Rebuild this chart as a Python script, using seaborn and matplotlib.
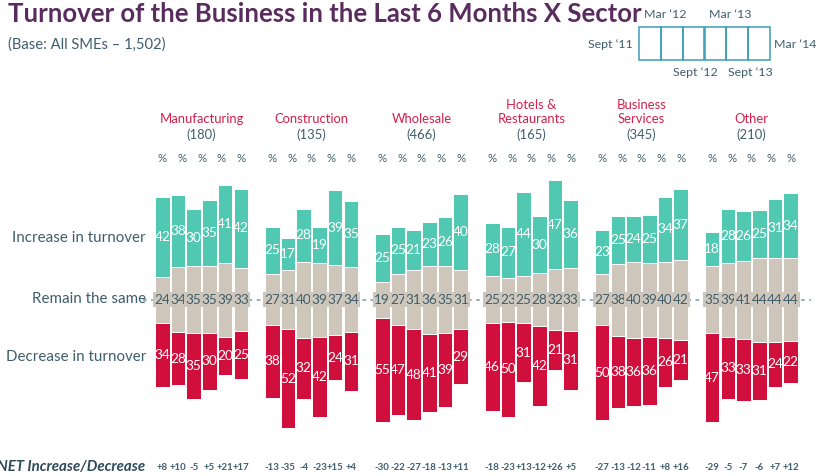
import numpy as np
import pandas as pd
import matplotlib
matplotlib.use("Agg")
import matplotlib.pyplot as plt
from matplotlib.patches import Rectangle
import seaborn as sns

# ---------------------------------------------------------------------------
# Data (percentages, six waves per sector)
# ---------------------------------------------------------------------------
sectors = ["Manufacturing", "Construction", "Wholesale",
           "Hotels &\nRestaurants", "Business\nServices", "Other"]
bases = ["(180)", "(135)", "(466)", "(165)", "(345)", "(210)"]

increase = [
    [42, 38, 30, 35, 41, 42],
    [25, 17, 28, 19, 39, 35],
    [25, 25, 21, 23, 26, 40],
    [28, 27, 44, 30, 47, 36],
    [23, 25, 24, 25, 34, 37],
    [18, 28, 26, 25, 31, 34],
]
remain = [
    [24, 34, 35, 35, 39, 33],
    [27, 31, 40, 39, 37, 34],
    [19, 27, 31, 36, 35, 31],
    [25, 23, 25, 28, 32, 33],
    [27, 38, 40, 39, 40, 42],
    [35, 39, 41, 44, 44, 44],
]
decrease = [
    [34, 28, 35, 30, 20, 25],
    [38, 52, 32, 42, 24, 31],
    [55, 47, 48, 41, 39, 29],
    [46, 50, 31, 42, 21, 31],
    [50, 38, 36, 36, 26, 21],
    [47, 33, 33, 31, 24, 22],
]
net = [
    ["+8", "+10", "-5", "+5", "+21", "+17"],
    ["-13", "-35", "-4", "-23", "+15", "+4"],
    ["-30", "-22", "-27", "-18", "-13", "+11"],
    ["-18", "-23", "+13", "-12", "+26", "+5"],
    ["-27", "-13", "-12", "-11", "+8", "+16"],
    ["-29", "-5", "-7", "-6", "+7", "+12"],
]
row_labels = ["Increase in turnover", "Remain the same", "Decrease in turnover"]
wave_top = ["Mar \u201812", "Mar \u201813"]
wave_bottom = ["Sept \u201812", "Sept \u201813"]

TEAL = "#50C8B2"
BEIGE = "#CEC6BA"
RED = "#D10F3C"
SLATE = "#3F5E6B"
PURPLE = "#5A2B5E"
CRIMSON = "#D4204A"

W, H = 817, 476


def fx(px):
    return px / W


def fy(py):
    return 1 - py / H


# ---------------------------------------------------------------------------
# Long table: one row per bar
# ---------------------------------------------------------------------------
rows = []
for g in range(len(sectors)):
    for i in range(6):
        r = remain[g][i]
        rows.append({
            "pos": g * 7 + i,
            "inc": increase[g][i], "rem": r, "dec": decrease[g][i],
            "inc_bottom": r / 2, "rem_bottom": -r / 2,
            "dec_bottom": -r / 2 - decrease[g][i],
            "net": net[g][i],
        })
df = pd.DataFrame(rows).sort_values("pos").reset_index(drop=True)

sns.set_theme(style="white")
plt.rcParams["font.family"] = ["Lato", "DejaVu Sans"]

fig = plt.figure(figsize=(W / 100, H / 100), dpi=100)
ax = fig.add_axes([0, 0, 1, 1])

# dotted baseline behind the bars
x0, step, scale, cy = 162.3, 15.71, 1.9, 299.7
ax.plot([(143 - x0) / step, (811 - x0) / step], [0, 0], color="#8FAAB5",
        lw=1.3, ls=(0, (2, 2.5)), zorder=0)

for col, bottom, color in [("inc", "inc_bottom", TEAL),
                           ("rem", "rem_bottom", BEIGE),
                           ("dec", "dec_bottom", RED)]:
    sns.barplot(data=df, x="pos", y=col, native_scale=True, errorbar=None,
                width=0.93, color=color, saturation=1, bottom=df[bottom].to_numpy(),
                edgecolor="white", linewidth=0.7, ax=ax, zorder=2)

for _, row in df.iterrows():
    ax.text(row.pos, row.rem / 2 + row.inc / 2, str(row.inc), color="white",
            ha="center", va="center", fontsize=9.8, zorder=3)
    ax.text(row.pos, -row.rem / 2 - row.dec / 2, str(row.dec), color="white",
            ha="center", va="center", fontsize=9.8, zorder=3)
    ax.text(row.pos, 0, str(row.rem), color=SLATE, ha="center", va="center",
            fontsize=9.8, zorder=3,
            bbox=dict(boxstyle="square,pad=0.1", fc=BEIGE, ec="none"))
    ax.text(row.pos, (cy - 467) / scale, row.net, color=SLATE, ha="center",
            va="center", fontsize=6.9, fontweight="bold", zorder=3)

ax.set_xlim((0 - x0) / step, (W - x0) / step)
ax.set_ylim((cy - H) / scale, cy / scale)
ax.set_axis_off()

# sector headers
for g, (name, base) in enumerate(zip(sectors, bases)):
    cx = g * 7 + 2.5
    ax.text(cx, (cy - 125) / scale, name, color=CRIMSON, ha="center",
            va="bottom", fontsize=9.4, linespacing=1.2)
    ax.text(cx, (cy - 135) / scale, base, color=SLATE, ha="center",
            va="center", fontsize=9.4)
    for k in range(5):
        ax.text(g * 7 + k * 1.25, (cy - 158) / scale, "%", color=SLATE,
                ha="center", va="center", fontsize=8.3)

# row labels on the left
for lab, py in zip(row_labels, [238, 299, 357]):
    fig.text(fx(146), fy(py), lab, color=SLATE, ha="right", va="center",
             fontsize=10.9)
fig.text(fx(145), fy(467), "NET Increase/Decrease", color="#2E4A57",
         ha="right", va="center", fontsize=10.8, fontweight="bold",
         style="italic")

# title
fig.text(fx(8), fy(14), "Turnover of the Business in the Last 6 Months X Sector",
         color=PURPLE, fontsize=18.5, fontweight="bold", ha="left", va="center")
fig.text(fx(8), fy(45), "(Base: All SMEs \u2013 1,502)", color=SLATE,
         fontsize=10.6, ha="left", va="center")

# wave key in the top right corner
bx0, bx1, by0, by1 = 639, 770, 27, 60
bw = (bx1 - bx0) / 6
for k in range(6):
    fig.add_artist(Rectangle((fx(bx0 + k * bw), fy(by1)), bw / W, (by1 - by0) / H,
                             transform=fig.transFigure, fill=False,
                             ec="#3A9DB8", lw=1.1))
for lab, px in zip(wave_top, [bx0 + bw * 1.2, bx0 + bw * 4.2]):
    fig.text(fx(px), fy(15), lab, color=SLATE, fontsize=8.9, ha="center",
             va="center")
for lab, px in zip(wave_bottom, [bx0 + bw * 2.6, bx0 + bw * 5.1]):
    fig.text(fx(px), fy(73), lab, color=SLATE, fontsize=8.9, ha="center",
             va="center")
fig.text(fx(633), fy(44), "Sept \u201811", color=SLATE, fontsize=8.9,
         ha="right", va="center")
fig.text(fx(774), fy(44), "Mar \u201814", color=SLATE, fontsize=8.9,
         ha="left", va="center")

fig.savefig("out.png", dpi=100)
